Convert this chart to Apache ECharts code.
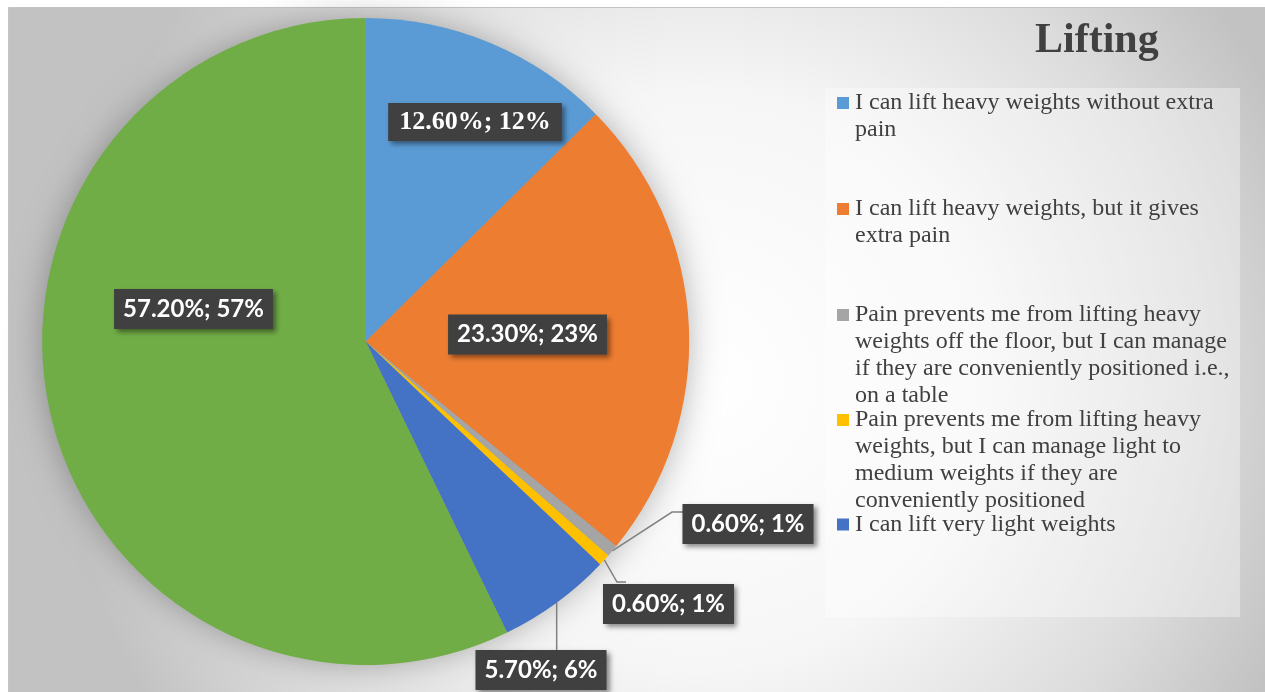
<!DOCTYPE html>
<html>
<head>
<meta charset="utf-8">
<title>Lifting</title>
<script src="https://cdn.jsdelivr.net/npm/echarts@6/dist/echarts.min.js"></script>
<style>
  html, body { margin: 0; padding: 0; background: #ffffff; }
  #chart { width: 1265px; height: 692px; }
</style>
</head>
<body>
<div id="chart"></div>
<script>
// Answers to the "Lifting" question
const categories = [
  'I can lift heavy weights without extra pain',
  'I can lift heavy weights, but it gives extra pain',
  'Pain prevents me from lifting heavy weights off the floor, but I can manage if they are conveniently positioned i.e., on a table',
  'Pain prevents me from lifting heavy weights, but I can manage light to medium weights if they are conveniently positioned',
  'I can lift very light weights',
  'I cannot lift or carry anything at all'
];
// share of respondents, in percent
const shares = [12.6, 23.3, 0.6, 0.6, 5.7, 57.2];
// rounded share printed after the semicolon
const sharesRounded = [12, 23, 1, 1, 6, 57];
const colors = ['#5B9BD5', '#ED7D31', '#A5A5A5', '#FFC000', '#4472C4', '#70AD47'];
// categories listed in the key
const legendCount = 5;

// ---- layout ----
const PIE_CENTER = [365.7, 341.5];
const PIE_RADIUS = 323.5;
// centre of each value box
const labelSpots = [[475, 122], [527.5, 334.5], [748, 524], [668.5, 604], [541, 670], [193.5, 309]];
const outsideLabels = [2, 3, 4];
// first-line centre of each key entry
const legendRows = [103, 209, 315, 420, 524.5];
const LEGEND_FONT = 24;
const LEGEND_LINE = 27;
const LEGEND_WRAP = 385;

const measureCtx = document.createElement('canvas').getContext('2d');
measureCtx.font = LEGEND_FONT + 'px "Liberation Serif"';
function wrapWords(text, maxWidth) {
  const words = text.split(' ');
  const lines = [];
  let line = '';
  words.forEach(w => {
    const probe = line ? line + ' ' + w : w;
    if (line && measureCtx.measureText(probe).width > maxWidth) {
      lines.push(line);
      line = w;
    } else {
      line = probe;
    }
  });
  if (line) lines.push(line);
  return lines;
}

const labelBase = {
  show: true,
  color: '#ffffff',
  fontWeight: 'bold',
  fontFamily: 'Lato',
  fontSize: 24,
  lineHeight: 27,
  backgroundColor: '#404040',
  padding: [7, 9, 6, 9],
  shadowColor: 'rgba(0,0,0,0.45)',
  shadowBlur: 5,
  shadowOffsetX: 3,
  shadowOffsetY: 3,
  formatter: p => shares[p.dataIndex].toFixed(2) + '%; ' + sharesRounded[p.dataIndex] + '%'
};

const pieData = categories.map((name, i) => {
  const item = { name: name, value: shares[i], itemStyle: { color: colors[i] } };
  if (outsideLabels.indexOf(i) < 0) {
    item.label = { position: 'inside' };
    item.labelLine = { show: false };
  }
  if (i === 0) {
    item.label = Object.assign(item.label || {}, {
      fontFamily: 'Liberation Serif', fontSize: 26, lineHeight: 26, padding: [6, 11, 6, 11]
    });
  }
  return item;
});

function leaderPoints(i, anchor) {
  if (i === 2) return [anchor, [672, 512], [684, 512]];
  if (i === 3) return [anchor, [617, 582], [626, 582]];
  if (i === 4) return [anchor, [anchor[0], 640], [anchor[0], 651]];
  return null;
}

const legends = categories.slice(0, legendCount).map((name, i) => {
  const lines = wrapWords(name, LEGEND_WRAP);
  return {
    data: [name],
    orient: 'vertical',
    left: 832,
    top: legendRows[i] - LEGEND_LINE / 2,
    padding: 0,
    itemWidth: 0,
    itemHeight: 0,
    selectedMode: false,
    formatter: () => lines.map((ln, k) => (k === 0 ? '{m|}{g|}' : '{s|}') + '{t|' + ln + '}').join('\n'),
    textStyle: {
      fontFamily: 'Liberation Serif',
      fontSize: LEGEND_FONT,
      lineHeight: LEGEND_LINE,
      color: '#404040',
      rich: {
        m: { width: 12, height: 12, backgroundColor: colors[i] },
        g: { width: 6 },
        s: { width: 18 },
        t: { fontFamily: 'Liberation Serif', fontSize: LEGEND_FONT, lineHeight: LEGEND_LINE, color: '#404040' }
      }
    }
  };
});

const chart = echarts.init(document.getElementById('chart'), null, { renderer: 'canvas' });
chart.setOption({
  animation: false,
  backgroundColor: '#ffffff',
  title: {
    text: 'Lifting',
    left: 1035,
    top: 20,
    padding: 0,
    textStyle: { fontFamily: 'Liberation Serif', fontSize: 42, fontWeight: 'bold', color: '#404040' }
  },
  graphic: {
    elements: [
      {
        type: 'rect', z: -10, silent: true,
        shape: { x: 8.5, y: 7.5, width: 1270, height: 700 },
        style: {
          fill: {
            type: 'radial', x: 700, y: 380, r: 640, global: true,
            colorStops: [
              { offset: 0, color: '#ffffff' },
              { offset: 0.45, color: '#f6f6f6' },
              { offset: 0.78, color: '#dbdbdb' },
              { offset: 1, color: '#c2c2c2' }
            ]
          },
          stroke: '#c4c4c4', lineWidth: 1
        }
      },
      {
        type: 'rect', z: -9, silent: true,
        shape: { x: 825, y: 88, width: 415, height: 529 },
        style: { fill: 'rgba(255,255,255,0.35)' }
      }
    ]
  },
  legend: legends,
  series: [
    {
      // soft halo beneath the pie
      type: 'pie',
      silent: true,
      z: 1,
      center: PIE_CENTER,
      radius: PIE_RADIUS - 2,
      label: { show: false },
      labelLine: { show: false },
      itemStyle: { color: '#9a9a9a', shadowBlur: 34, shadowColor: 'rgba(0,0,0,0.32)' },
      emphasis: { disabled: true },
      data: [{ value: 1, name: '' }]
    },
    {
      type: 'pie',
      z: 2,
      center: PIE_CENTER,
      radius: PIE_RADIUS,
      startAngle: 90,
      clockwise: true,
      avoidLabelOverlap: false,
      emphasis: { disabled: true },
      label: Object.assign({ position: 'outside' }, labelBase),
      labelLine: {
        show: true, length: 10, length2: 10, smooth: false,
        lineStyle: { color: '#808080', width: 1.5 }
      },
      labelLayout: params => {
        const i = params.dataIndex;
        const spot = labelSpots[i];
        const out = { x: spot[0], y: spot[1], align: 'center', verticalAlign: 'middle' };
        if (params.labelLinePoints && outsideLabels.indexOf(i) >= 0) {
          out.labelLinePoints = leaderPoints(i, params.labelLinePoints[0]);
        }
        return out;
      },
      data: pieData
    }
  ]
});
</script>
</body>
</html>
